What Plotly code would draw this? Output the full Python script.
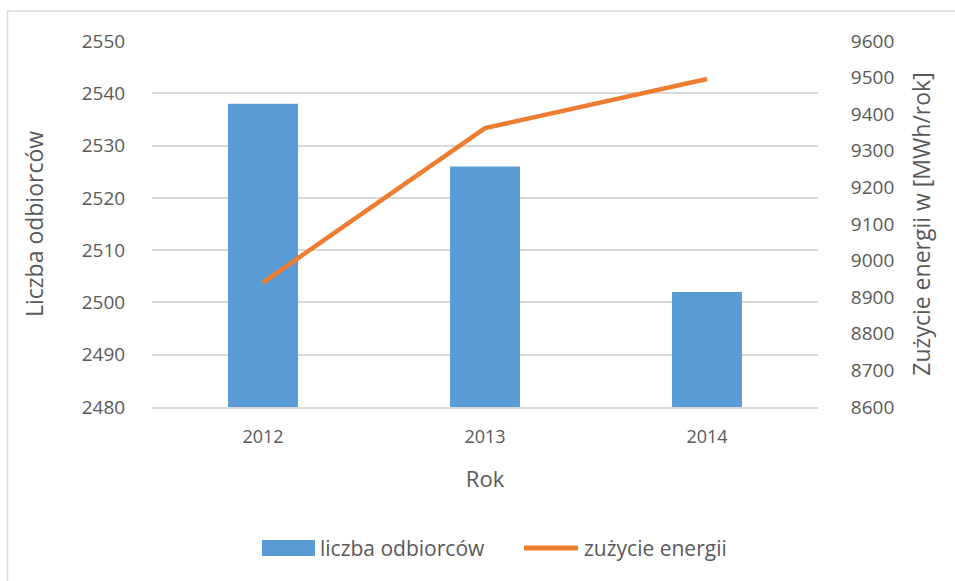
import plotly.graph_objects as go

years = ["2012", "2013", "2014"]
odbiorcy = [2538, 2526, 2502]
energia = [8940, 9362, 9496]
left_ticks = [2480, 2490, 2500, 2510, 2520, 2530, 2540, 2550]
right_ticks = [8600, 8700, 8800, 8900, 9000, 9100, 9200, 9300, 9400, 9500, 9600]
legend_names = ["liczba odbiorców", "zużycie energii"]

FONT = "Open Sans"
TXT = "#595959"
GRID = "#D9D9D9"
BLUE = "#5B9BD5"
ORANGE = "#ED7D31"

fig = go.Figure()
fig.add_trace(go.Bar(
    x=years, y=odbiorcy, name=legend_names[0],
    marker=dict(color=BLUE, line=dict(width=0)), width=0.315,
    yaxis="y", showlegend=False))
fig.add_trace(go.Scatter(
    x=years, y=energia, name=legend_names[1], mode="lines",
    line=dict(color=ORANGE, width=4.5), yaxis="y2", showlegend=False))

L, R, T, B = 152, 955 - 818, 41, 581 - 407
pw, ph = 955 - L - R, 581 - T - B


def px(x):
    return (x - L) / pw


def py(y):
    return (407 - y) / ph


fig.update_layout(
    width=955, height=581,
    margin=dict(l=L, r=R, t=T, b=B, pad=0),
    paper_bgcolor="white", plot_bgcolor="white",
    font=dict(family=FONT, color=TXT, size=18),
    showlegend=False,
    xaxis=dict(showgrid=False, showline=True, linecolor=GRID, linewidth=1.5,
               ticks="outside", ticklen=13, tickcolor="rgba(0,0,0,0)",
               tickfont=dict(size=18, color=TXT),
               title=dict(text="Rok", font=dict(size=22, color=TXT), standoff=24)),
    yaxis=dict(range=[2480, 2550], tickvals=left_ticks, showgrid=True,
               gridcolor=GRID, gridwidth=1.5, zeroline=False, showline=False,
               ticks="outside", ticklen=22, tickcolor="rgba(0,0,0,0)",
               tickfont=dict(size=19, color=TXT),
               title=dict(text="Liczba odbiorców", font=dict(size=23, color=TXT), standoff=31)),
    yaxis2=dict(range=[8600, 9600], tickvals=right_ticks, overlaying="y", side="right",
                showgrid=False, zeroline=False, showline=False,
                ticks="outside", ticklen=28, tickcolor="rgba(0,0,0,0)",
                tickfont=dict(size=19, color=TXT),
                title=dict(text="Zużycie energii w [MWh/rok]", font=dict(size=23, color=TXT), standoff=20)),
    shapes=[
        dict(type="line", xref="paper", yref="paper",
             x0=px(7.5), x1=px(7.5), y0=py(11), y1=py(600),
             line=dict(color=GRID, width=1.5)),
        dict(type="line", xref="paper", yref="paper",
             x0=px(7.5), x1=px(1000), y0=py(11), y1=py(11),
             line=dict(color=GRID, width=1.5)),
        # legend keys
        dict(type="rect", xref="paper", yref="paper",
             x0=px(262), x1=px(315), y0=py(540), y1=py(556),
             fillcolor=BLUE, line=dict(width=0)),
        dict(type="line", xref="paper", yref="paper",
             x0=px(524), x1=px(578), y0=py(548), y1=py(548),
             line=dict(color=ORANGE, width=5)),
    ],
    annotations=[
        dict(text=legend_names[0], xref="paper", yref="paper", x=px(318), y=py(548),
             xanchor="left", yanchor="middle", showarrow=False,
             font=dict(size=21, color=TXT)),
        dict(text=legend_names[1], xref="paper", yref="paper", x=px(582), y=py(548),
             xanchor="left", yanchor="middle", showarrow=False,
             font=dict(size=21, color=TXT)),
    ],
)

fig.write_html("out.html", config={"displayModeBar": False},
               post_script="document.body.style.margin='0';")
